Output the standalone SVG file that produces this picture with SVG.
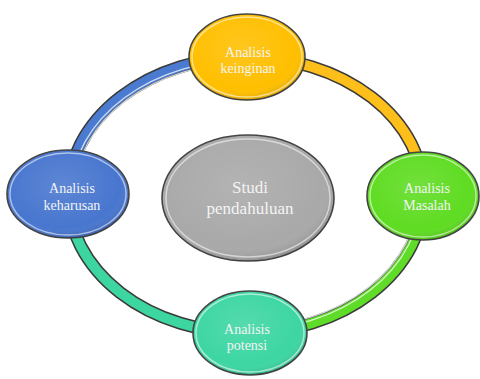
<svg xmlns="http://www.w3.org/2000/svg" width="480" height="379" viewBox="0 0 480 379">
<defs>
<radialGradient id="gloss" cx="0.45" cy="0.4" r="0.6">
<stop offset="0" stop-color="#fff" stop-opacity="0.12"/>
<stop offset="0.8" stop-color="#fff" stop-opacity="0"/>
<stop offset="1" stop-color="#000" stop-opacity="0.12"/>
</radialGradient>
</defs>
<style>
.edge-out{fill:none;stroke:#3a3a3a;stroke-width:13}
.edge{fill:none;stroke-width:10}
.hl{fill:none;stroke:#fff;stroke-width:1.3;stroke-opacity:0.75}
.node{stroke:#444;stroke-width:1.6}
.shine{fill:none;stroke:#fff;stroke-width:1.5;stroke-opacity:0.55}
.gl{fill:url(#gloss)}
.lbl{font-family:"Liberation Serif","Times New Roman",serif;fill:#f4f4f4;text-anchor:middle;font-size:14px}
.big{font-size:17px}
</style>
<rect width="480" height="379" fill="#fff"/>
<g id="connectors">
<path class="edge-out" d="M 68 195 A 178 138 0 0 1 246 57"/>
<path class="edge" stroke="#4a7bd0" d="M 68 195 A 178 138 0 0 1 246 57"/>
<path class="hl" d="M 71 190 A 175 135 0 0 1 246 60"/>
<path class="hl" d="M 74 190 A 172 132 0 0 1 246 63"/>
<path class="edge-out" d="M 246 57 A 178 138 0 0 1 424 195"/>
<path class="edge" stroke="#ffbf1a" d="M 246 57 A 178 138 0 0 1 424 195"/>
<path class="edge-out" d="M 424 195 A 178 138 0 0 1 246 333"/>
<path class="edge" stroke="#5edc28" d="M 424 195 A 178 138 0 0 1 246 333"/>
<path class="hl" d="M 421 195 A 175 135 0 0 1 246 330"/>
<path class="hl" d="M 418 195 A 172 132 0 0 1 246 327"/>
<path class="edge-out" d="M 246 333 A 178 138 0 0 1 68 195"/>
<path class="edge" stroke="#3ed6a0" d="M 246 333 A 178 138 0 0 1 68 195"/>
</g>
<g id="node-center">
<ellipse class="node" cx="248" cy="198" rx="86" ry="63" fill="#a9a9a9"/>
<ellipse class="gl" cx="248" cy="198" rx="86" ry="63"/>
<ellipse class="shine" cx="248" cy="198" rx="82" ry="59"/>
<text class="lbl big" x="250" y="193">Studi</text>
<text class="lbl big" x="250" y="214">pendahuluan</text>
</g>
<g id="node-top">
<ellipse class="node" cx="247" cy="57" rx="58" ry="43" fill="#ffbf00"/>
<ellipse class="gl" cx="247" cy="57" rx="58" ry="43"/>
<ellipse class="shine" cx="247" cy="57" rx="55" ry="40"/>
<text class="lbl" x="248" y="57">Analisis</text>
<text class="lbl" x="248" y="73">keinginan</text>
</g>
<g id="node-left">
<ellipse class="node" cx="68" cy="194" rx="61" ry="44" fill="#4876cf"/>
<ellipse class="gl" cx="68" cy="194" rx="61" ry="44"/>
<ellipse class="shine" cx="68" cy="194" rx="58" ry="41"/>
<text class="lbl" x="72" y="193">Analisis</text>
<text class="lbl" x="72" y="210">keharusan</text>
</g>
<g id="node-right">
<ellipse class="node" cx="423" cy="196" rx="56" ry="44" fill="#5fdc22"/>
<ellipse class="gl" cx="423" cy="196" rx="56" ry="44"/>
<ellipse class="shine" cx="423" cy="196" rx="53" ry="41"/>
<text class="lbl" x="427" y="193">Analisis</text>
<text class="lbl" x="427" y="210">Masalah</text>
</g>
<g id="node-bottom">
<ellipse class="node" cx="250" cy="333" rx="57" ry="42" fill="#3dd6a3"/>
<ellipse class="gl" cx="250" cy="333" rx="57" ry="42"/>
<ellipse class="shine" cx="250" cy="333" rx="54" ry="39"/>
<text class="lbl" x="247" y="334">Analisis</text>
<text class="lbl" x="247" y="350">potensi</text>
</g>
</svg>
